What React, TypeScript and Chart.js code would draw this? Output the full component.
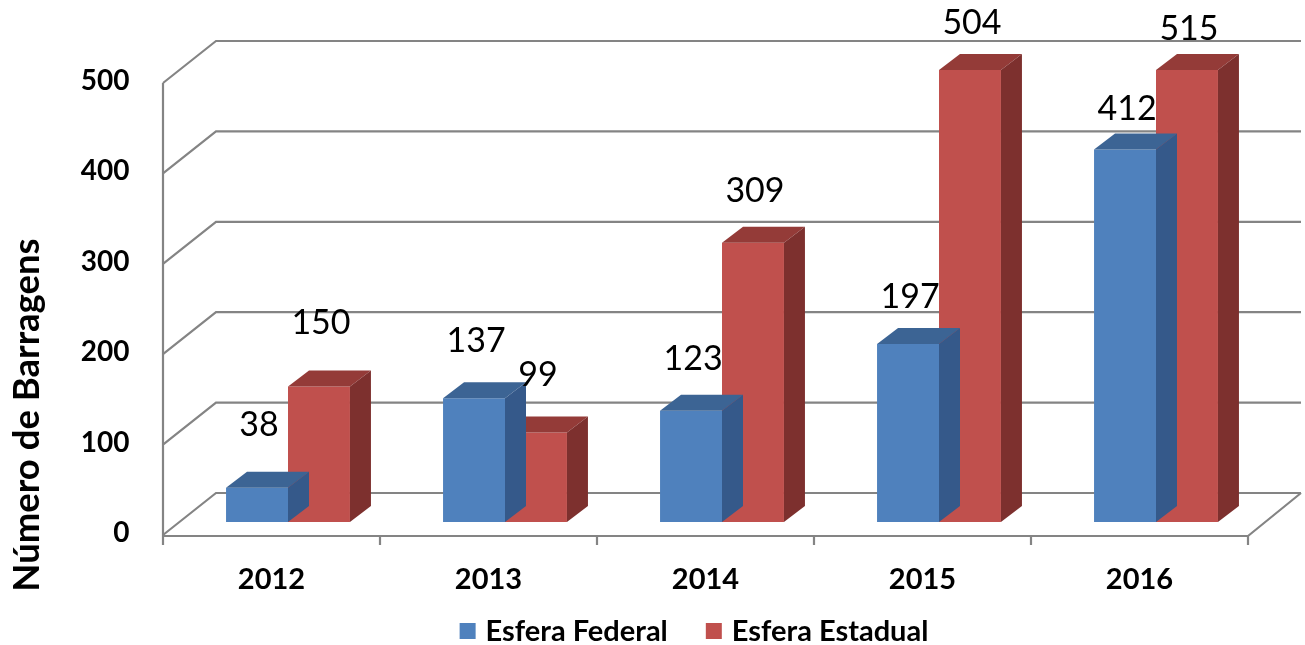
import React, { useEffect, useRef } from "react";
import { Chart, registerables } from "chart.js";

Chart.register(...registerables);

const categories = ["2012", "2013", "2014", "2015", "2016"];
const federal = [38, 137, 123, 197, 412];
const estadual = [150, 99, 309, 504, 515];
const seriesNames = ["Esfera Federal", "Esfera Estadual"];
const yTicks = [0, 100, 200, 300, 400, 500];
const yTitle = "Número de Barragens";

const FONT = "Lato, 'Open Sans', sans-serif";
const FRONT = { dx: -16.5, dy: 13 };
const BACK = { dx: 36.5, dy: -29 };
const DEPTH = { dx: 21, dy: -16 };
const frontColors = ["#4F81BD", "#C0504D"];
const faceColors = [
  { top: "#3C6494", side: "#35598A" },
  { top: "#943B38", side: "#7D302E" },
];

const threeD = {
  id: "threeD",
  beforeDatasetsDraw(chart: any) {
    const { ctx, chartArea: ca, scales } = chart;
    const y = scales.y;
    const x = scales.x;
    ctx.save();
    ctx.strokeStyle = "#848484";
    ctx.lineWidth = 2.2;
    for (const v of yTicks) {
      const py = y.getPixelForValue(v);
      ctx.beginPath();
      ctx.moveTo(ca.left + FRONT.dx, py + FRONT.dy);
      ctx.lineTo(ca.left + BACK.dx, py + BACK.dy);
      ctx.lineTo(ca.right + BACK.dx, py + BACK.dy);
      ctx.stroke();
    }
    const top = y.getPixelForValue(yTicks[yTicks.length - 1]);
    const bot = y.getPixelForValue(0);
    ctx.beginPath();
    ctx.moveTo(ca.left + FRONT.dx, top + FRONT.dy);
    ctx.lineTo(ca.left + FRONT.dx, bot + FRONT.dy + 10);
    ctx.stroke();
    ctx.beginPath();
    ctx.moveTo(ca.left + FRONT.dx, bot + FRONT.dy + 1);
    ctx.lineTo(ca.right + FRONT.dx, bot + FRONT.dy + 1);
    ctx.lineTo(ca.right + BACK.dx, bot + BACK.dy);
    ctx.stroke();
    ctx.beginPath();
    for (let k = 1; k <= categories.length; k++) {
      const px = x.getPixelForValue(k - 0.5) + FRONT.dx;
      ctx.moveTo(px, bot + FRONT.dy + 1);
      ctx.lineTo(px, bot + FRONT.dy + 10);
    }
    ctx.stroke();
    ctx.restore();
  },
  afterDatasetDraw(chart: any, args: any) {
    const { ctx, chartArea: ca } = chart;
    const meta = chart.getDatasetMeta(args.index);
    const c = faceColors[args.index];
    ctx.save();
    meta.data.forEach((bar: any) => {
      const { x, y, base, width } = bar.getProps(["x", "y", "base", "width"], true);
      const l = x - width / 2;
      const r = x + width / 2;
      const t = Math.max(y, ca.top);
      ctx.fillStyle = c.top;
      ctx.beginPath();
      ctx.moveTo(l, t);
      ctx.lineTo(l + DEPTH.dx, t + DEPTH.dy);
      ctx.lineTo(r + DEPTH.dx, t + DEPTH.dy);
      ctx.lineTo(r, t);
      ctx.closePath();
      ctx.fill();
      ctx.fillStyle = c.side;
      ctx.beginPath();
      ctx.moveTo(r, t);
      ctx.lineTo(r + DEPTH.dx, t + DEPTH.dy);
      ctx.lineTo(r + DEPTH.dx, base + DEPTH.dy);
      ctx.lineTo(r, base);
      ctx.closePath();
      ctx.fill();
    });
    ctx.restore();
  },
  afterDatasetsDraw(chart: any) {
    const { ctx, chartArea: ca } = chart;
    ctx.save();
    ctx.font = `34px ${FONT}`;
    ctx.fillStyle = "#000";
    ctx.textAlign = "center";
    ctx.textBaseline = "middle";
    chart.data.datasets.forEach((ds: any, di: number) => {
      chart.getDatasetMeta(di).data.forEach((bar: any, i: number) => {
        const t = Math.max(bar.y, ca.top);
        ctx.fillText(String(ds.data[i]), bar.x + 2, t - (63 - 5.5 * i));
      });
    });
    ctx.restore();
  },
  afterDraw(chart: any) {
    const { ctx } = chart;
    ctx.save();
    ctx.translate(27, 415);
    ctx.rotate(-Math.PI / 2);
    ctx.font = `bold 36.5px ${FONT}`;
    ctx.fillStyle = "#000";
    ctx.textAlign = "center";
    ctx.textBaseline = "middle";
    ctx.fillText(yTitle, 0, 0);
    ctx.restore();
    ctx.save();
    ctx.font = `bold 29px ${FONT}`;
    ctx.textBaseline = "middle";
    ctx.textAlign = "left";
    const box = 16, gap = 10, spacing = 38;
    const items = chart.data.datasets.map((ds: any) => ({
      label: ds.label,
      color: ds.backgroundColor,
      w: ctx.measureText(ds.label).width,
    }));
    const total = items.reduce((s: number, it: any) => s + box + gap + it.w, 0) + spacing * (items.length - 1);
    let lx = 694 - total / 2;
    const cy = 631;
    for (const it of items) {
      ctx.fillStyle = it.color;
      ctx.fillRect(lx, cy - 8, box, box);
      ctx.fillStyle = "#000";
      ctx.fillText(it.label, lx + box + gap, cy + 1);
      lx += box + gap + it.w + spacing;
    }
    ctx.restore();
  },
};

export default function App() {
  const ref = useRef<HTMLCanvasElement>(null);
  useEffect(() => {
    if (!ref.current) return;
    const chart = new Chart(ref.current, {
      type: "bar",
      data: {
        labels: categories,
        datasets: [
          { label: seriesNames[0], data: federal, backgroundColor: frontColors[0], borderWidth: 0, categoryPercentage: 0.571, barPercentage: 1.0 },
          { label: seriesNames[1], data: estadual, backgroundColor: frontColors[1], borderWidth: 0, categoryPercentage: 0.571, barPercentage: 1.0 },
        ],
      },
      options: {
        responsive: false,
        animation: false,
        devicePixelRatio: 1,
        layout: { padding: { left: 0, right: 40.5, top: 70, bottom: 0 } },
        plugins: { legend: { display: false }, tooltip: { enabled: false } },
        scales: {
          x: {
            grid: { display: false, drawTicks: false },
            border: { display: false },
            ticks: { font: { family: FONT, size: 29, weight: "bold" }, color: "#000", padding: 40, labelOffset: -16.5, maxRotation: 0 },
            afterFit: (s: any) => { s.height = 123; },
          },
          y: {
            min: 0,
            max: 500,
            grid: { display: false, drawTicks: false },
            border: { display: false },
            ticks: { stepSize: 100, font: { family: FONT, size: 28, weight: "bold" }, color: "#000", padding: 50, labelOffset: 11 },
            afterFit: (s: any) => { s.width = 179.5; },
          },
        },
      },
      plugins: [threeD],
    } as any);
    return () => chart.destroy();
  }, []);
  return (
    <div style={{ position: "absolute", left: 0, top: 0, width: 1305, height: 645, background: "#fff" }}>
      <canvas ref={ref} width={1305} height={645} />
    </div>
  );
}
